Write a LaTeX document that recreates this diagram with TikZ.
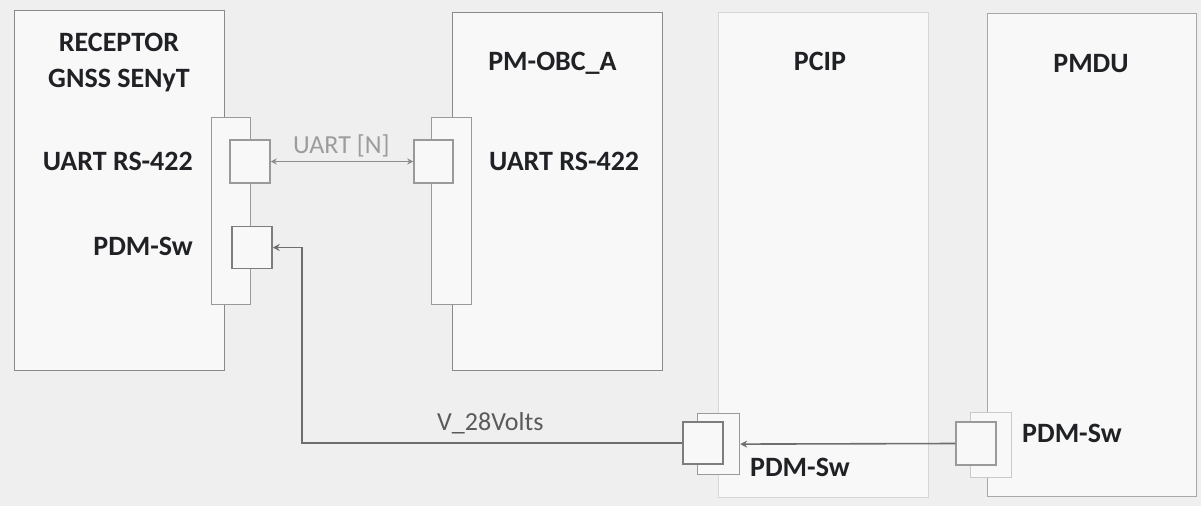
\documentclass[tikz,border=0pt]{standalone}
\usepackage{fontspec}
\setmainfont{Carlito}
\usepackage{xcolor}
\usepackage{tikz}
\usetikzlibrary{arrows.meta,positioning,calc}
\definecolor{Ink}{HTML}{202124}
\definecolor{Back}{HTML}{EFEFEF}
\definecolor{Paper}{HTML}{F8F8F8}
\definecolor{Edge}{HTML}{8A8A8A}
\definecolor{EdgeSoft}{HTML}{D6D6D6}
\definecolor{EdgeMid}{HTML}{A8A8A8}
\definecolor{Port}{HTML}{9A9A9A}
\definecolor{Wire}{HTML}{6E6E6E}
\definecolor{WireSoft}{HTML}{8C8C8C}
\definecolor{LabelGray}{HTML}{9C9C9C}
\definecolor{LabelDark}{HTML}{5A5A5A}
\tikzset{
  unit/.style={draw=Edge,fill=Paper,line width=1.2pt,anchor=north west,inner sep=0pt},
  connstrip/.style={draw=Port,fill=Paper,line width=1.2pt,anchor=north west,inner sep=0pt},
  port/.style={draw=Port,fill=Paper,line width=1.5pt,inner sep=0pt,minimum width=40pt,minimum height=42pt},
  title/.style={font=\bfseries\fontsize{28}{36}\selectfont,text=Ink,align=center,inner sep=0pt},
  sig/.style={font=\fontsize{26}{30}\selectfont,inner sep=0pt},
  link/.style={draw=WireSoft,line width=1.6pt,{Stealth[length=6pt,width=6pt]}-{Stealth[length=6pt,width=6pt]}},
  power/.style={draw=Wire,line width=1.6pt,-{Stealth[length=7pt,width=7pt]}}
}
\begin{document}
\begin{tikzpicture}[x=1pt,y=-1pt]
  \fill[Back] (0,0) rectangle (1201,506);
  \useasboundingbox (0,0) rectangle (1201,506);
  % units
  \node[unit,minimum width=210pt,minimum height=360pt] (rec) at (14,10) {};
  \node[unit,minimum width=210pt,minimum height=358pt] (obc) at (452,12) {};
  \node[unit,draw=EdgeSoft,minimum width=210pt,minimum height=485pt] (pcip) at (718,12) {};
  \node[unit,draw=EdgeMid,minimum width=209pt,minimum height=483pt] (pmdu) at (987,13) {};
  % connector strips
  \node[connstrip,minimum width=39pt,minimum height=187pt] (recStrip) at (211,117) {};
  \node[connstrip,minimum width=40pt,minimum height=187pt] (obcStrip) at (431,117) {};
  \node[connstrip,minimum width=42pt,minimum height=61pt] (pcipStrip) at (697,413) {};
  \node[connstrip,draw=EdgeSoft!80!Port,minimum width=41pt,minimum height=65pt] (pmduStrip) at (970,412) {};
  % ports
  \node[port,minimum height=43pt] (recUart) at (250,161.5) {};
  \node[port,draw=Wire!90] (recPdm) at (252,247.5) {};
  \node[port,minimum width=39pt,minimum height=43pt] (obcUart) at (433.5,161.5) {};
  \node[port,draw=Wire!90] (pcipPdm) at (703,443) {};
  \node[port,minimum height=43pt] (pmduPdm) at (976,443.5) {};
  % titles
  \node[title,anchor=north] (recName) at (119,33) {RECEPTOR\\GNSS SENyT};
  \node[title,anchor=base] (obcName) at (552.5,70) {PM-OBC\_A};
  \node[title,anchor=base] (pcipName) at (820,70) {PCIP};
  \node[title,anchor=base] (pmduName) at (1091,72) {PMDU};
  \node[title,anchor=base east] (recUartLbl) at (193,170) {UART RS-422};
  \node[title,anchor=base east] (recPdmLbl) at (193,255) {PDM-Sw};
  \node[title,anchor=base west] (obcUartLbl) at (489,170) {UART RS-422};
  \node[title,anchor=base west] (pcipPdmLbl) at (750,476) {PDM-Sw};
  \node[title,anchor=base west] (pmduPdmLbl) at (1022,442) {PDM-Sw};
  % links
  \draw[link] (recUart.east) -- (obcUart.west);
  \node[sig,text=LabelGray,anchor=base west] (uartLbl) at (293,153) {UART [N]};
  \draw[power] (pmduPdm.west) -- (pcipStrip.east);
  \coordinate (vBend) at (302,443);
  \draw[power] (pcipPdm.west) -- (vBend) |- (recPdm.east);
  \node[sig,text=LabelDark,anchor=base west] (voltLbl) at (437,430) {V\_28Volts};
\end{tikzpicture}
\end{document}
